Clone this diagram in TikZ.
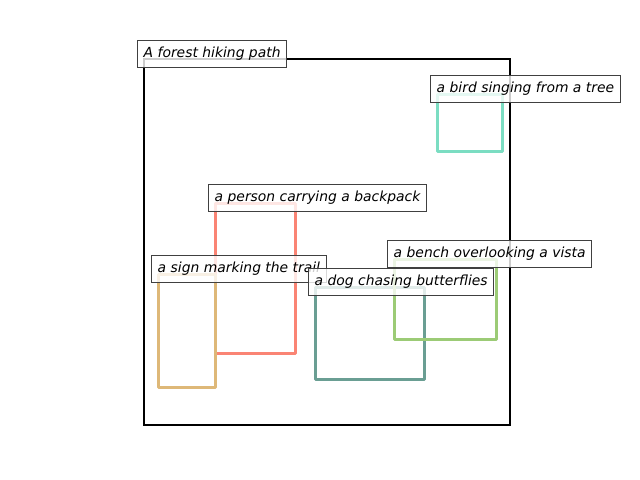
\documentclass[tikz,border=0pt]{standalone}
\usepackage{fontspec}
\newfontfamily\labelfont{DejaVu Sans}
\definecolor{birdcol}{HTML}{7BDDC2}
\definecolor{personcol}{HTML}{FA8474}
\definecolor{signcol}{HTML}{DEB878}
\definecolor{dogcol}{HTML}{6A9E93}
\definecolor{benchcol}{HTML}{9CCB76}
\tikzset{
	tag/.style={draw=black!75, fill=white, fill opacity=0.8, text opacity=1,
		line width=0.7pt, anchor=south west, inner xsep=4.5pt, inner ysep=4.7pt,
		text height=7.6pt, text depth=2.4pt, font=\labelfont\itshape\fontsize{10}{12}\selectfont},
	region/.style={line width=2.16pt, line join=round}
}
\begin{document}
\begin{tikzpicture}[x=0.72pt, y=-0.72pt]
			\useasboundingbox (0,0) rectangle (640,480);
			
			\coordinate (scene) at (144,59);
			\draw[line width=2pt] (scene) rectangle (510,425);
			
			\coordinate (bird) at (437,94);
			\coordinate (person) at (215,203);
			\coordinate (sign) at (158,274);
			\coordinate (dog) at (315,287);
			\coordinate (bench) at (394,259);
			
			\draw[region, birdcol] (bird) rectangle ++(65,57);
			\draw[region, personcol] (person) rectangle ++(80,150);
			\draw[region, signcol] (sign) rectangle ++(57,113);
			\draw[region, dogcol] (dog) rectangle ++(109,92);
			\draw[region, benchcol] (bench) rectangle ++(102,80);
			
			\node[tag] (scenetag) at ([shift={(-7,8.5)}] scene) {A forest hiking path};
			\node[tag] (birdtag) at ([shift={(-7,8.5)}] bird) {a bird singing from a tree};
			\node[tag] (persontag) at ([shift={(-7,8.5)}] person) {a person carrying a backpack};
			\node[tag] (signtag) at ([shift={(-7,8.5)}] sign) {a sign marking the trail};
			\node[tag] (benchtag) at ([shift={(-7,8.5)}] bench) {a bench overlooking a vista};
			\node[tag] (dogtag) at ([shift={(-7,8.5)}] dog) {a dog chasing butterflies};
\end{tikzpicture}
\end{document}
